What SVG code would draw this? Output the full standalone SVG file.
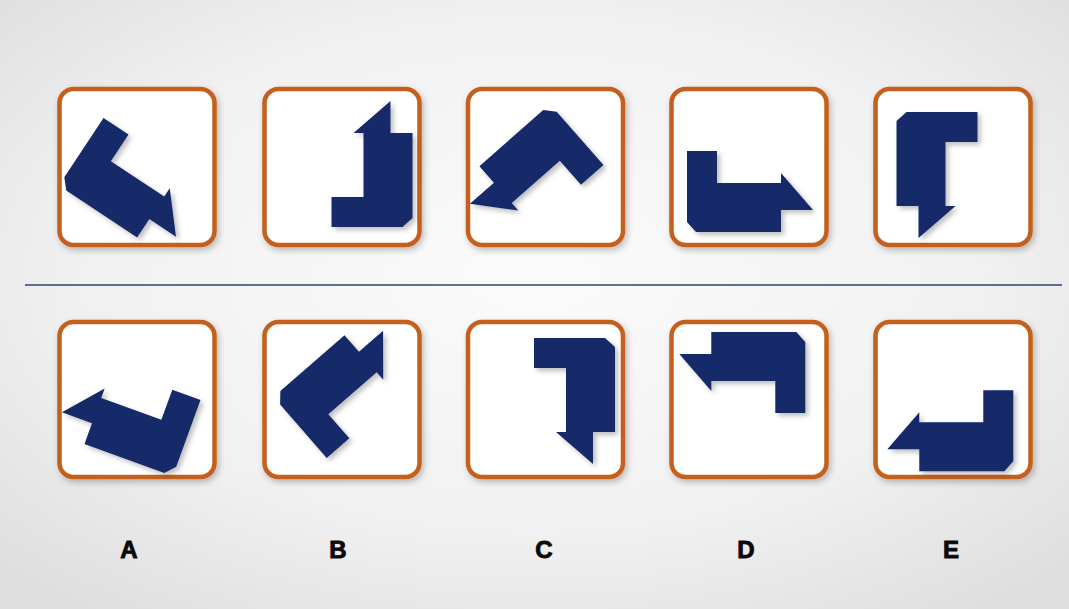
<svg xmlns="http://www.w3.org/2000/svg" width="1069" height="609" viewBox="0 0 1069 609">
<defs>
<radialGradient id="bg" cx="50%" cy="45%" r="70%">
<stop offset="0" stop-color="#fbfbfb"/>
<stop offset="0.6" stop-color="#f1f1f1"/>
<stop offset="1" stop-color="#dedede"/>
</radialGradient>
<filter id="boxsh" x="-10%" y="-10%" width="125%" height="125%">
<feDropShadow dx="2" dy="3" stdDeviation="3" flood-color="#000" flood-opacity="0.25"/>
</filter>
<filter id="shpsh" x="-10%" y="-10%" width="130%" height="130%">
<feDropShadow dx="3" dy="3" stdDeviation="2.5" flood-color="#000" flood-opacity="0.25"/>
</filter>
<polygon id="shape" points="0,0 30,0 30,32 94,32 94,22 126,59 94,59 94,81 9,81 0,71"/>
</defs>
<style>
.box{fill:#ffffff;stroke:#c45f1c;stroke-width:4.5}
.shp{fill:#132a69}
.lbl{font-family:"Liberation Sans",Arial,sans-serif;font-weight:bold;font-size:24px;fill:#0a0a0a;stroke:#0a0a0a;stroke-width:0.9;text-anchor:middle}
</style>
<rect x="0" y="0" width="1069" height="609" fill="url(#bg)"/>
<line x1="25" y1="285" x2="1062" y2="285" stroke="#2d4470" stroke-width="1.3"/>
<g id="top-A">
<rect class="box" x="59.5" y="89" width="155" height="156" rx="14" filter="url(#boxsh)"/>
<g filter="url(#shpsh)"><use href="#shape" class="shp" transform="translate(103.5,118) rotate(33.5)"/></g>
</g>
<g id="top-B">
<rect class="box" x="264.5" y="89" width="155" height="156" rx="14" filter="url(#boxsh)"/>
<g filter="url(#shpsh)"><use href="#shape" class="shp" transform="translate(331.5,227) rotate(-90)"/></g>
</g>
<g id="top-C">
<rect class="box" x="468" y="89" width="155" height="156" rx="14" filter="url(#boxsh)"/>
<g filter="url(#shpsh)"><use href="#shape" class="shp" transform="translate(603.5,165) rotate(138.7)"/></g>
</g>
<g id="top-D">
<rect class="box" x="671.5" y="89" width="155" height="156" rx="14" filter="url(#boxsh)"/>
<g filter="url(#shpsh)"><use href="#shape" class="shp" transform="translate(687,151)"/></g>
</g>
<g id="top-E">
<rect class="box" x="875.5" y="89" width="155" height="156" rx="14" filter="url(#boxsh)"/>
<g filter="url(#shpsh)"><use href="#shape" class="shp" transform="translate(977.5,112) rotate(90)"/></g>
</g>
<g id="opt-A">
<rect class="box" x="59.5" y="322" width="155" height="155" rx="14" filter="url(#boxsh)"/>
<g filter="url(#shpsh)"><use href="#shape" class="shp" transform="translate(200.5,400) rotate(200) scale(1,-1)"/></g>
</g>
<g id="opt-B">
<rect class="box" x="264.5" y="322" width="155" height="155" rx="14" filter="url(#boxsh)"/>
<g filter="url(#shpsh)"><use href="#shape" class="shp" transform="translate(326.7,458) rotate(-41) scale(1,-1)"/></g>
</g>
<g id="opt-C">
<rect class="box" x="468" y="322" width="155" height="155" rx="14" filter="url(#boxsh)"/>
<g filter="url(#shpsh)"><use href="#shape" class="shp" transform="translate(534,338) rotate(90) scale(1,-1)"/></g>
</g>
<g id="opt-D">
<rect class="box" x="671.5" y="322" width="155" height="155" rx="14" filter="url(#boxsh)"/>
<g filter="url(#shpsh)"><use href="#shape" class="shp" transform="translate(805.3,413) rotate(180)"/></g>
</g>
<g id="opt-E">
<rect class="box" x="875.5" y="322" width="155" height="155" rx="14" filter="url(#boxsh)"/>
<g filter="url(#shpsh)"><use href="#shape" class="shp" transform="translate(1013.3,390.3) rotate(180) scale(1,-1)"/></g>
</g>
<g id="labels">
<text class="lbl" x="129" y="558">A</text>
<text class="lbl" x="338" y="558">B</text>
<text class="lbl" x="544" y="558">C</text>
<text class="lbl" x="746" y="558">D</text>
<text class="lbl" x="951" y="558">E</text>
</g>
<g id="connectors"></g>
</svg>
